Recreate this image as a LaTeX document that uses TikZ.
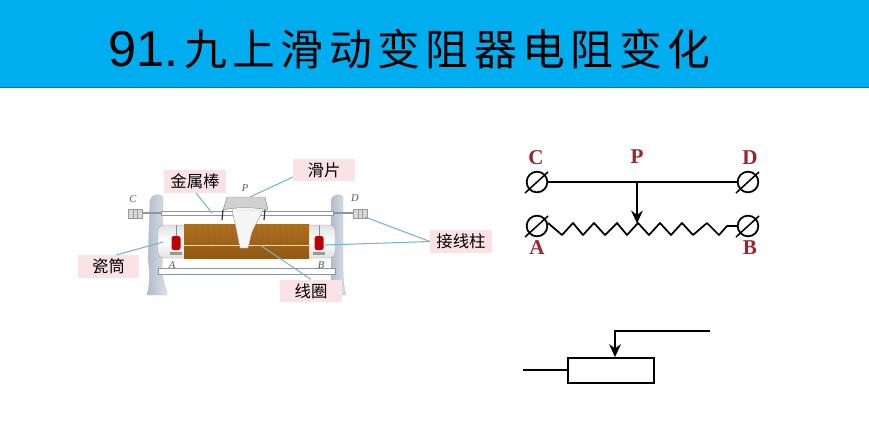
\documentclass[tikz,border=0pt]{standalone}
\usepackage{fontspec}
\newfontfamily\cjk{Noto Sans CJK SC}
\newfontfamily\cjktitle[LetterSpace=13]{Noto Sans CJK SC}
\newfontfamily\numfont{Liberation Sans}
\newfontfamily\termfont{Liberation Serif}
\usetikzlibrary{arrows.meta}
\definecolor{bandblue}{RGB}{0,174,239}
\definecolor{tagpink}{RGB}{251,227,229}
\definecolor{leadblue}{RGB}{118,182,205}
\definecolor{termred}{RGB}{160,36,44}
\definecolor{standgray}{RGB}{176,188,205}
\definecolor{rodgray}{RGB}{140,150,162}
\definecolor{coiltop}{RGB}{172,112,30}
\definecolor{coilmid}{RGB}{210,146,58}
\definecolor{coilbot}{RGB}{146,88,22}
\tikzset{
  tag/.style={fill=tagpink,inner sep=0pt,minimum width=1.85cm,minimum height=.68cm,font=\cjk\fontsize{14}{15}\selectfont},
  lead/.style={leadblue,line width=.9pt},
  term/.style={circle,draw,line width=1.5pt,minimum size=.62cm,inner sep=0pt},
  termlabel/.style={text=termred,inner sep=0pt,font=\termfont\bfseries\fontsize{18}{19}\selectfont},
  photolabel/.style={text=black!65,inner sep=0pt,font=\termfont\itshape\fontsize{9}{10}\selectfont},
  wire/.style={line width=1.5pt},
  rod/.style={draw=rodgray,fill=white,line width=.5pt},
  stand/.style={draw=black!25,left color=standgray,right color=standgray!45,line width=.3pt},
}
\begin{document}
\begin{tikzpicture}[x=.03cm,y=-.03cm,>={Stealth[length=11pt,width=10pt]}]
        \useasboundingbox (0,0) rectangle (869,440);
        % title band
        \fill[bandblue] (0,0) rectangle (869,87);
        \draw[black!30!bandblue,line width=.8pt] (0,87.5) -- (869,87.5);
        \node[anchor=west,inner sep=0pt,font=\numfont\fontsize{43}{45}\selectfont] (titlenum) at (108,49) {91.};
        \node[anchor=west,inner sep=0pt,font=\cjktitle\fontsize{36.5}{39}\selectfont] (title) at (184,49) {九上滑动变阻器电阻变化};
        % stands and cylinder
        \draw[stand] (150,200) .. controls (152,194) and (160,193) .. (163,197) -- (162,270) .. controls (162,280) and (166,288) .. (167,295) -- (147,295) .. controls (150,285) and (150,270) .. (148,260) -- cycle;
        \draw[stand] (331,200) .. controls (332,194) and (341,193) .. (343,197) -- (343,262) .. controls (343,275) and (343,285) .. (346,295) -- (331,295) -- cycle;
        \draw[draw=black!35,top color=black!12,bottom color=black!12,middle color=white,rounded corners=4pt,line width=.4pt] (158,225) rectangle (335,258);
        \shade[top color=coiltop,middle color=coilmid,bottom color=coilbot] (184,224) rectangle (309,258);
        \foreach \c in {190,196,...,304} \draw[coilbot,opacity=.12,line width=.4pt] (\c,224) -- (\c,258);
        \draw[orange!30!white,line width=.7pt] (184,245) -- (309,245);
        % lamps
        \foreach \c in {176,319} {
          \draw[black!45,line width=.4pt] (\c,225) -- (\c,237);
          \fill[red!75!black,rounded corners=2pt] (\c-4.5,236) rectangle (\c+4.5,250);
          \fill[black!40] (\c-6,252) rectangle (\c+6,255);
        }
        % rods and end posts
        \draw[rodgray,line width=1pt] (142,213) -- (353,213);
        \draw[rod] (161,211) rectangle (333,215.5);
        \draw[rod] (158,268) rectangle (335,274);
        \foreach \c in {128,353} {
          \draw[draw=black!40,fill=black!15,line width=.4pt] (\c,209) rectangle (\c+14,218);
          \draw[black!40,line width=.3pt] (\c+5,209) -- (\c+5,218) (\c+9,209) -- (\c+9,218);
        }
        % slider
        \foreach \c in {222,264} \draw[black!80,line width=1pt] (\c+1,210) -- (\c,220);
        \draw[draw=black!40,fill=black!4,line width=.4pt] (232,210) -- (263,210) .. controls (258,222) and (252,228) .. (250,240) -- (248,248) -- (240,248) -- (238,238) .. controls (236,226) and (234,220) .. cycle;
        \draw[draw=black!45,fill=black!18,line width=.4pt] (223,210) -- (227,197) -- (265,197) -- (268,210) .. controls (255,207) and (235,207) .. cycle;
        \node[photolabel] (photoC) at (133,199) {C};
        \node[photolabel] (photoD) at (355,198) {D};
        \node[photolabel] (photoP) at (245,188) {P};
        \node[photolabel] (photoA) at (172,265) {A};
        \node[photolabel] (photoB) at (321,265) {B};
        % pink tags and leaders
        \node[tag] (rodtag) at (195,181.5) {金属棒};
        \node[tag] (slidetag) at (324,170) {滑片};
        \node[tag] (posttag) at (461,241.5) {接线柱};
        \node[tag] (tubetag) at (108.5,266.5) {瓷筒};
        \node[tag] (coiltag) at (311,291) {线圈};
        \coordinate (rodpt) at (212,213);
        \coordinate (slidept) at (250,197);
        \coordinate (postD) at (365,217);
        \coordinate (postB) at (325,245);
        \coordinate (tubept) at (163,242);
        \coordinate (coilpt) at (260,245);
        \draw[lead] (196,193) -- (rodpt);
        \draw[lead] (slidetag.west) ++(0,7) -- (slidept);
        \draw[lead] (posttag.west) -- (postD);
        \draw[lead] (posttag.west) -- (postB);
        \draw[lead] (tubetag.north) ++(8,0) -- (tubept);
        \draw[lead] (coiltag.north) -- (coilpt);
        % circuit with sliding contact
        \node[term] (C) at (537,182) {};
        \node[term] (D) at (748,182) {};
        \node[term] (A) at (537,226) {};
        \node[term] (B) at (748,226) {};
        \foreach \c in {A,B,C,D} \draw[line width=1.3pt] (\c) ++(-12,11) -- ++(23,-21);
        \draw[wire] (C) -- (D);
        \coordinate (P) at (637,182);
        \coordinate (Ptip) at (637,223.5);
        \draw[wire,->] (P) -- (Ptip);
        \draw[wire,line join=round] (A) ++(11,-3) -- (562,235) -- (573,223) -- (583,235) -- (594,223) -- (605,235) -- (617,223) -- (627,235) -- (638,223) -- (649,235) -- (660,223) -- (671,235) -- (682,223) -- (693,235) -- (707,223) -- (719,235) -- (727,226) -- (B);
        \node[termlabel] (labelC) at (536,158) {C};
        \node[termlabel] (labelP) at (637,157) {P};
        \node[termlabel] (labelD) at (750,158) {D};
        \node[termlabel] (labelA) at (537,248) {A};
        \node[termlabel] (labelB) at (750,248) {B};
        % symbol
        \node[draw,line width=1.5pt,minimum width=2.58cm,minimum height=.75cm,inner sep=0pt] (rheo) at (611,370.5) {};
        \coordinate (leadL) at (523,370);
        \coordinate (leadR) at (710,331);
        \coordinate (bend) at (615,331);
        \draw[wire] (leadL) -- (leadL -| rheo.west);
        \draw[wire,->] (leadR) -- (bend) -- (bend |- rheo.north);
      \end{tikzpicture}
\end{document}
